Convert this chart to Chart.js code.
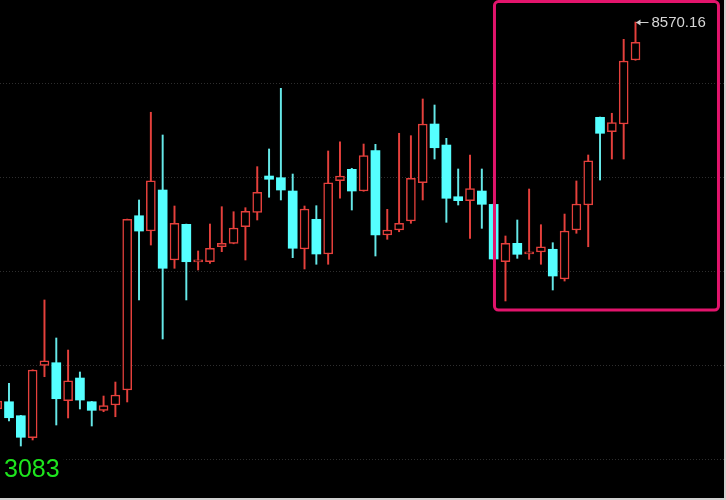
<!DOCTYPE html>
<html>
<head>
<meta charset="utf-8">
<script src="https://cdn.jsdelivr.net/npm/chart.js@4.4.1/dist/chart.umd.min.js"></script>
<style>
  html, body { margin: 0; padding: 0; background: #000; }
  #wrap { width: 726px; height: 500px; position: relative; background: #000; }
</style>
</head>
<body>
<div id="wrap"><canvas id="c" width="726" height="500"></canvas></div>
<script>
// ---- data ----
const opens  = [3562,3656,3475,3190,4127,4161,3669,3963,3656,3545,3614,3808,6063,5865,6396,5490,5952,5466,5468,5662,5706,5921,6107,6577,6555,6383,5633,6017,5568,6516,6664,6383,6905,5814,5878,5995,6490,7250,6978,6309,6258,6383,6210,5468,5706,5570,5594,5629,5244,5878,6202,7337,7150,7250,8078];
const highs  = [3743,3895,3480,4070,4973,4481,4325,4041,3660,3730,3911,6020,6267,7402,7108,6189,5955,5607,5956,6180,6115,6167,6698,6927,7712,6603,6189,6193,6901,7021,6677,6991,6987,6146,7130,7099,7574,7496,7065,6668,6849,6668,6215,5801,6008,6409,5947,5714,6085,6513,6849,7340,7389,8346,8570.16];
const lows   = [3523,3407,3083,3161,3980,3355,3446,3562,3342,3527,3462,3653,4973,5684,4468,5383,4973,5361,5447,5598,5700,5490,6008,6302,6267,5520,5374,5435,5435,6289,6137,6380,5542,5758,5856,5965,6267,6797,5978,6202,5771,5900,5498,4960,5512,5499,5435,5102,5218,5836,5662,6525,6797,6797,8075];
const closes = [3666,3449,3196,4067,4187,3695,3928,3678,3545,3605,3743,6017,5865,6516,5383,5965,5468,5470,5642,5706,5904,6120,6366,6535,6396,5642,6150,5568,6490,6577,6383,6840,5814,5878,5965,6547,7250,6943,6289,6258,6414,6211,5503,5706,5564,5574,5662,5283,5865,6215,6775,7130,7267,8065,8307];
const gridValues = [7780.8, 6564.3, 5347.9, 4131.4, 2915.0];
const highlight = { from: 42.07, to: 61.02, top: 8835, bottom: 4843 };

// ---- styles ----
const RED = '#e5403c';
const CYAN = '#55ffff';
const CYAN_WICK = '#66e8e8';

const isUp = i => closes[i] >= opens[i];
const idx = opens.map((_, i) => i);

const overlay = {
  id: 'overlay',
  beforeDatasetsDraw(chart) {
    const { ctx, scales: { y }, chartArea } = chart;
    ctx.save();
    ctx.strokeStyle = '#2e2e2e';
    ctx.lineWidth = 1;
    ctx.setLineDash([1, 2]);
    gridValues.forEach(v => {
      const py = Math.round(y.getPixelForValue(v)) + 0.5;
      ctx.beginPath();
      ctx.moveTo(chartArea.left, py);
      ctx.lineTo(chartArea.right, py);
      ctx.stroke();
    });
    ctx.restore();
  },
  afterDatasetsDraw(chart) {
    const { ctx, scales: { x, y } } = chart;
    ctx.save();
    // highlight box
    const l = x.getPixelForValue(highlight.from), r = x.getPixelForValue(highlight.to);
    const t = y.getPixelForValue(highlight.top), b = y.getPixelForValue(highlight.bottom);
    ctx.strokeStyle = '#e2146c';
    ctx.lineWidth = 3;
    ctx.beginPath();
    ctx.roundRect(l, t, r - l, b - t, 4);
    ctx.stroke();

    // max label with arrow
    let mi = 0;
    highs.forEach((h, i) => { if (h > highs[mi]) mi = i; });
    const mx = x.getPixelForValue(mi), my = y.getPixelForValue(highs[mi]);
    ctx.strokeStyle = '#cfcfcf';
    ctx.fillStyle = '#cfcfcf';
    ctx.lineWidth = 1;
    ctx.beginPath();
    ctx.moveTo(mx + 1, my + 0.5);
    ctx.lineTo(mx + 13, my + 0.5);
    ctx.stroke();
    ctx.beginPath();
    ctx.moveTo(mx + 0.5, my + 0.5);
    ctx.lineTo(mx + 5, my - 2.5);
    ctx.lineTo(mx + 5, my + 3.5);
    ctx.closePath();
    ctx.fill();
    ctx.font = "15px 'Liberation Sans', Arial, sans-serif";
    ctx.textBaseline = 'middle';
    ctx.textAlign = 'left';
    ctx.fillStyle = '#d6d6d6';
    ctx.fillText(highs[mi].toFixed(2), mx + 16, my + 1);

    // min label bottom-left
    const minLow = Math.min(...lows);
    ctx.font = "25px 'Liberation Sans', Arial, sans-serif";
    ctx.textBaseline = 'alphabetic';
    const txt = String(minLow);
    const w = ctx.measureText(txt).width;
    ctx.fillStyle = '#000';
    ctx.fillRect(0, 455, w + 8, 30);
    ctx.fillStyle = '#1ee61e';
    ctx.fillText(txt, 4, 477);

    // frame edge
    ctx.fillStyle = '#d0d0d0';
    ctx.fillRect(0, 498, 726, 2);
    ctx.fillRect(724, 0, 2, 500);
    ctx.restore();
  }
};

new Chart(document.getElementById('c'), {
  type: 'bar',
  data: {
    datasets: [
      {
        label: 'wick',
        data: idx.map(i => ({ x: i, y: [lows[i], highs[i]] })),
        backgroundColor: idx.map(i => isUp(i) ? RED : CYAN_WICK),
        borderWidth: 0,
        barThickness: 1.3,
        grouped: false,
        order: 2
      },
      {
        label: 'body',
        data: idx.map(i => ({ x: i, y: [opens[i], closes[i]] })),
        backgroundColor: idx.map(i => isUp(i) ? '#000000' : CYAN),
        borderColor: idx.map(i => isUp(i) ? RED : CYAN),
        borderWidth: idx.map(i => isUp(i) ? 1.5 : 0),
        borderSkipped: false,
        minBarLength: 2,
        barThickness: 9,
        grouped: false,
        order: 1
      }
    ]
  },
  options: {
    responsive: false,
    animation: false,
    devicePixelRatio: 1,
    layout: { padding: 0 },
    plugins: { legend: { display: false }, tooltip: { enabled: false } },
    scales: {
      x: { type: 'linear', display: false, min: 0.2386, max: 61.656, offset: false },
      y: { type: 'linear', display: false, min: 2384.4, max: 8854.9 }
    }
  },
  plugins: [overlay]
});
</script>
</body>
</html>
